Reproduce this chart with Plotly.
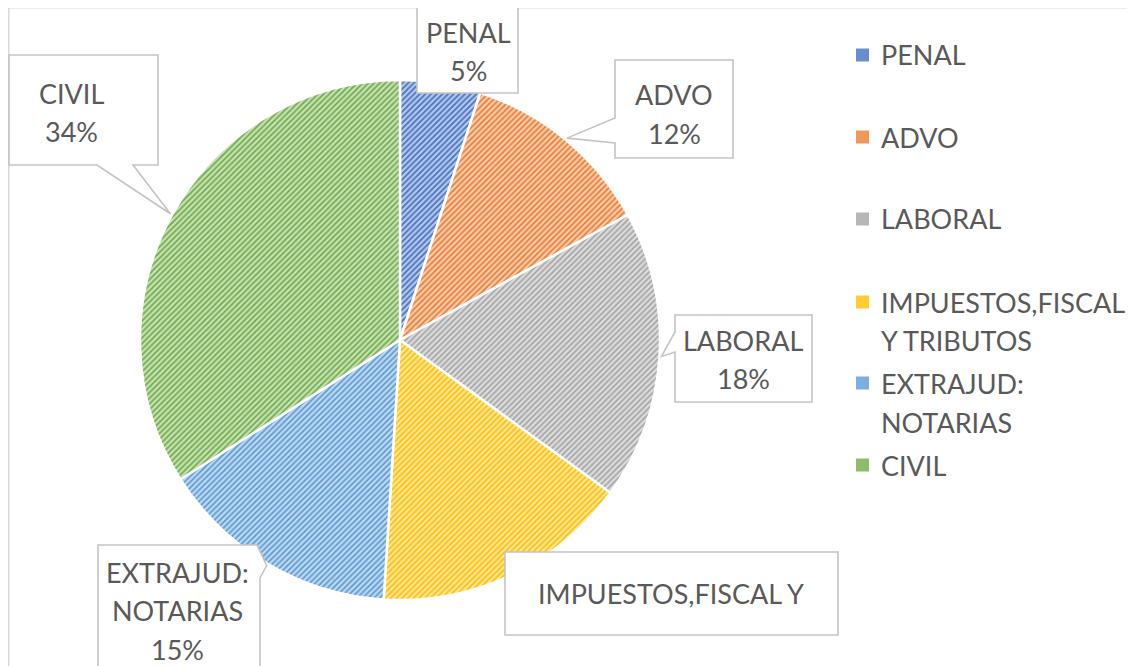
import math
import plotly.graph_objects as go

# page body has an 8px margin: draw the figure in the remaining area
OFF = 8
W, H = 1135 - OFF, 666 - OFF

# ---- data ----
categories = ["PENAL", "ADVO", "LABORAL", "IMPUESTOS,FISCAL Y TRIBUTOS", "EXTRAJUD: NOTARIAS", "CIVIL"]
values = [5, 12, 18, 16, 15, 34]
legend_labels = [["PENAL"], ["ADVO"], ["LABORAL"], ["IMPUESTOS,FISCAL", "Y TRIBUTOS"],
                 ["EXTRAJUD:", "NOTARIAS"], ["CIVIL"]]
callout_names = [["PENAL"], ["ADVO"], ["LABORAL"], ["IMPUESTOS,FISCAL Y"], ["EXTRAJUD:", "NOTARIAS"], ["CIVIL"]]
show_pct = [True, True, True, False, True, True]
main_colors = ["#4472C4", "#ED7D31", "#A5A5A5", "#FFC000", "#5B9BD5", "#70AD47"]

# ---- layout constants (pixels in the screenshot) ----
CX, CY, R = 400, 340, 260
TEXT = "#595959"
FONT = "Lato"
FS = 27
LH = 38.5


def tint(hexc, f):
    h = hexc.lstrip("#")
    r, g, b = (int(h[i:i + 2], 16) for i in (0, 2, 4))
    r, g, b = (round(c + (255 - c) * f) for c in (r, g, b))
    return "#%02X%02X%02X" % (r, g, b)


def px(x):
    return (x - OFF) / W


def py(y):
    return 1 - (y - OFF) / H


bg_colors = [tint(c, 0.62) for c in main_colors]
swatch_colors = [tint(c, 0.2) for c in main_colors]

fig = go.Figure()
fig.add_trace(go.Pie(
    labels=categories,
    values=values,
    sort=False,
    direction="clockwise",
    rotation=0,
    textinfo="none",
    hoverinfo="label+percent",
    showlegend=False,
    domain=dict(x=[px(CX - R), px(CX + R)], y=[py(CY + R), py(CY - R)]),
    marker=dict(
        colors=bg_colors,
        line=dict(color="white", width=2.5),
        pattern=dict(shape="/", fgcolor=main_colors, bgcolor=bg_colors,
                     size=4, solidity=0.45, fillmode="replace"),
    ),
))

shapes = []
annotations = []


def add_text(x, y, s, anchor="center"):
    annotations.append(dict(x=px(x), y=py(y), xref="paper", yref="paper",
                            text=s, showarrow=False, xanchor=anchor, yanchor="middle",
                            align=anchor if anchor != "center" else "center",
                            font=dict(family=FONT, size=FS, color=TEXT)))


# chart frame
shapes.append(dict(type="path", xref="paper", yref="paper",
                   path=f"M {px(8.5)},{py(H + 40)} L {px(8.5)},{py(7.5)} L {px(W + 40)},{py(7.5)}",
                   line=dict(color="#D9D9D9", width=2)))

# slice mid-angles from data (clockwise from 12 o'clock)
total = sum(values)
mids = []
cum = 0
for v in values:
    mids.append((cum + v / 2) / total * 2 * math.pi)
    cum += v

# callout boxes ("TIP" is replaced by the point on the slice edge)
boxes = [
    [(417, 7), (518, 7), (518, 93), (417, 93)],
    [(615, 60), (733, 60), (733, 158), (615, 158), (615, 143), "TIP", (615, 118)],
    [(675, 315), (812, 315), (812, 402), (675, 402), (675, 352), "TIP", (675, 332)],
    [(505, 552), (838, 552), (838, 635), (505, 635)],
    [(98, 545), (257, 545), "TIP", (260, 578), (260, 720), (98, 720)],
    [(9, 55), (158, 55), (158, 165), (133, 165), "TIP", (97, 165), (9, 165)],
]
text_pos = [(468, 32), (674, 95), (743, 340), (671, 593), (177, 572), (71, 93)]

for i, verts in enumerate(boxes):
    a = mids[i]
    tip = (CX + (R + 2) * math.sin(a), CY - (R + 2) * math.cos(a))
    pts = [tip if v == "TIP" else v for v in verts]
    path = "M " + " L ".join(f"{px(x):.5f},{py(y):.5f}" for x, y in pts) + " Z"
    shapes.append(dict(type="path", xref="paper", yref="paper", path=path,
                       fillcolor="white", line=dict(color="#C4C4C4", width=1.6)))
    pct = round(values[i] / total * 100)
    lines = list(callout_names[i]) + ([f"{pct}%"] if show_pct[i] else [])
    tx, ty = text_pos[i]
    for k, s in enumerate(lines):
        add_text(tx, ty + k * LH, s)

# legend
legend_y = [55, 137, 219, 302, 383, 465]
for i, lab in enumerate(legend_labels):
    y0 = legend_y[i]
    shapes.append(dict(type="rect", xref="paper", yref="paper",
                       x0=px(856), x1=px(869), y0=py(y0 + 6.5), y1=py(y0 - 6.5),
                       fillcolor=swatch_colors[i], line=dict(width=0)))
    for k, s in enumerate(lab):
        add_text(879, y0 + k * 39, s, anchor="left")

fig.update_layout(
    width=W, height=H,
    margin=dict(l=0, r=0, t=0, b=0),
    paper_bgcolor="white", plot_bgcolor="white",
    shapes=shapes, annotations=annotations,
    showlegend=False,
)

fig.write_html("out.html")
